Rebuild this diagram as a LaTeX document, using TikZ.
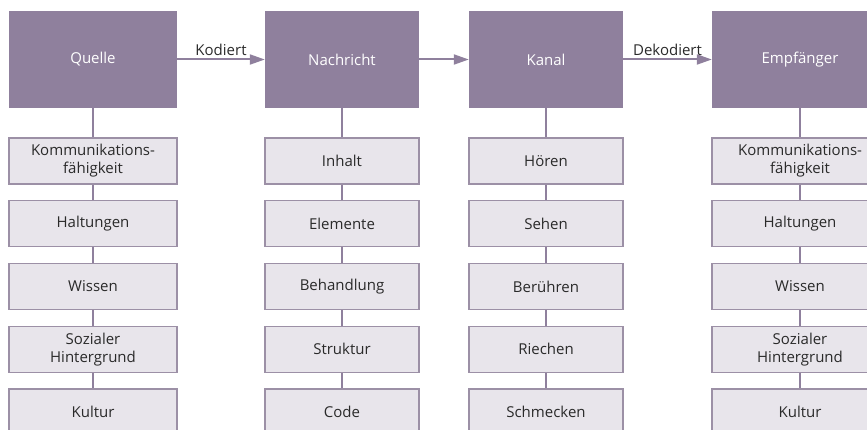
\documentclass[tikz,border=0pt]{standalone}
\usepackage{fontspec}
\setmainfont{Open Sans}
\usetikzlibrary{arrows.meta,positioning}
\definecolor{lila}{HTML}{8F809D}
\definecolor{hell}{HTML}{E8E5EB}
\definecolor{rand}{HTML}{9C90A6}
\definecolor{schrift}{HTML}{2A2A2A}

\begin{document}
\begin{tikzpicture}[x=1pt,y=-1pt,
  hauptbox/.style={fill=lila, text=white, minimum width=#1, minimum height=97pt,
    inner sep=0pt, font=\fontsize{15}{18}\selectfont},
  unterbox/.style={fill=hell, draw=rand, line width=1.2pt, minimum width=#1,
    minimum height=46pt, inner sep=0pt, align=center, text=schrift,
    font=\fontsize{15}{18}\selectfont},
  linie/.style={draw=lila, line width=2pt},
  pfeil/.style={linie, -{Triangle[length=15pt,width=10pt]}}]
  \clip (0,0) rectangle (867,430);

  % Kopfzeile
  \node[hauptbox=168pt] (quelle) at (93,59.5) {Quelle};
  \node[hauptbox=154pt] (nachricht) at (342,59.5) {Nachricht};
  \node[hauptbox=154pt] (kanal) at (546,59.5) {Kanal};
  \node[hauptbox=176pt] (empf) at (800,59.5) {Empfänger};

  % Pfeile
  \draw[pfeil] (quelle) -- node[above=0pt, text=schrift, font=\fontsize{15}{18}\selectfont] {Kodiert} (nachricht);
  \draw[pfeil] (nachricht) -- (kanal);
  \draw[pfeil] (kanal) -- node[above=0pt, text=schrift, font=\fontsize{15}{18}\selectfont] {Dekodiert} (empf);

  % Quelle
  \foreach \t [count=\i] in {{Kommunikations-\\fähigkeit}, Haltungen, Wissen, {Sozialer\\Hintergrund}, Kultur}
    \node[unterbox=168pt] (q\i) at (93,161+62.75*\i-62.75) {\t};

  % Nachricht
  \foreach \t [count=\i] in {Inhalt, Elemente, Behandlung, Struktur, Code}
    \node[unterbox=154pt] (n\i) at (342,161+62.75*\i-62.75) {\t};

  % Kanal
  \foreach \t [count=\i] in {Hören, Sehen, Berühren, Riechen, Schmecken}
    \node[unterbox=154pt] (k\i) at (546,161+62.75*\i-62.75) {\t};

  % Empfaenger
  \foreach \t [count=\i] in {{Kommunikations-\\fähigkeit}, Haltungen, Wissen, {Sozialer\\Hintergrund}, Kultur}
    \node[unterbox=176pt] (e\i) at (800,161+62.75*\i-62.75) {\t};

  % Verbindungen
  \foreach \s in {q,n,k,e} {
    \draw[linie] (\s1) -- (\s2);
    \draw[linie] (\s2) -- (\s3);
    \draw[linie] (\s3) -- (\s4);
    \draw[linie] (\s4) -- (\s5);
  }
  \draw[linie] (quelle) -- (q1);
  \draw[linie] (nachricht) -- (n1);
  \draw[linie] (kanal) -- (k1);
  \draw[linie] (empf) -- (e1);
\end{tikzpicture}
\end{document}
